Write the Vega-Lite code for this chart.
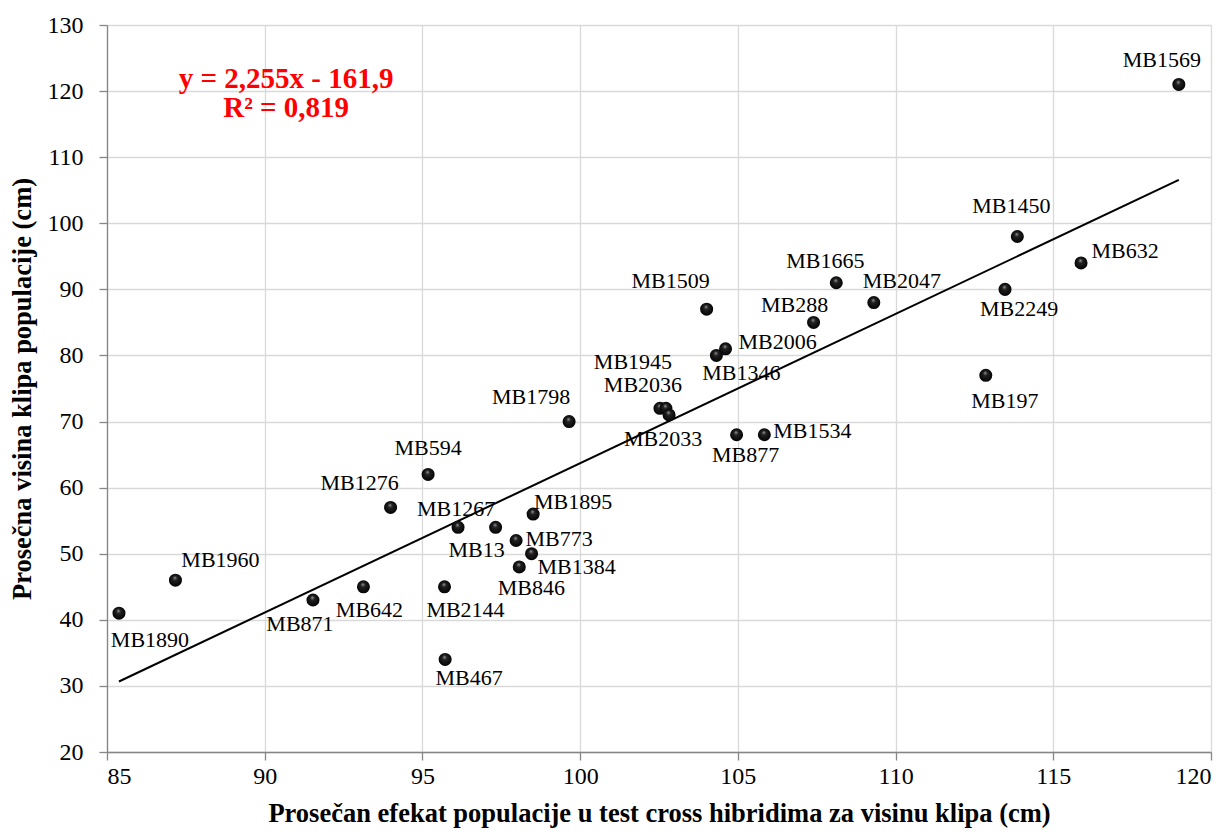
{
  "$schema": "https://vega.github.io/schema/vega-lite/v6.json",
  "width": 1104,
  "height": 727,
  "autosize": "none",
  "padding": {"left": 107, "top": 25, "right": 20, "bottom": 82},
  "background": "white",
  "config": {
    "view": {"stroke": null},
    "font": "Liberation Serif",
    "axis": {
      "labelFont": "Liberation Serif",
      "titleFont": "Liberation Serif",
      "labelColor": "#000000",
      "titleColor": "#000000",
      "labelFontSize": 24,
      "titleFontSize": 26.5,
      "titleFontWeight": "bold",
      "gridColor": "#d9d9d9",
      "gridWidth": 1.3,
      "domainColor": "#868686",
      "domainWidth": 1.3,
      "tickColor": "#868686",
      "tickSize": 8,
      "tickWidth": 1.3
    }
  },
  "datasets": {
    "pts": [
      {"name": "MB1890", "x": 85.38, "y": 41},
      {"name": "MB1960", "x": 87.17, "y": 46},
      {"name": "MB871", "x": 91.53, "y": 43},
      {"name": "MB642", "x": 93.13, "y": 45},
      {"name": "MB1276", "x": 93.99, "y": 57},
      {"name": "MB594", "x": 95.18, "y": 62},
      {"name": "MB2144", "x": 95.7, "y": 45},
      {"name": "MB467", "x": 95.72, "y": 34},
      {"name": "MB1267", "x": 96.13, "y": 54},
      {"name": "MB13", "x": 97.32, "y": 54},
      {"name": "MB773", "x": 97.97, "y": 52},
      {"name": "MB846", "x": 98.07, "y": 48},
      {"name": "MB1384", "x": 98.46, "y": 50},
      {"name": "MB1895", "x": 98.51, "y": 56},
      {"name": "MB1798", "x": 99.65, "y": 70},
      {"name": "MB1945", "x": 102.53, "y": 72},
      {"name": "MB2036", "x": 102.72, "y": 72},
      {"name": "MB2033", "x": 102.82, "y": 71},
      {"name": "MB1509", "x": 104.01, "y": 87},
      {"name": "MB1346", "x": 104.32, "y": 80},
      {"name": "MB2006", "x": 104.61, "y": 81},
      {"name": "MB877", "x": 104.96, "y": 68},
      {"name": "MB1534", "x": 105.84, "y": 68},
      {"name": "MB288", "x": 107.4, "y": 85},
      {"name": "MB1665", "x": 108.12, "y": 91},
      {"name": "MB2047", "x": 109.31, "y": 88},
      {"name": "MB197", "x": 112.86, "y": 77},
      {"name": "MB2249", "x": 113.47, "y": 90},
      {"name": "MB1450", "x": 113.86, "y": 98},
      {"name": "MB632", "x": 115.88, "y": 94},
      {"name": "MB1569", "x": 118.98, "y": 121}
    ],
    "eq": [
      {"label": "y = 2,255x - 161,9", "line": 1},
      {"label": "R² = 0,819", "line": 2}
    ]
  },
  "layer": [
    {
      "data": {"name": "pts"},
      "encoding": {
        "x": {
          "field": "x", "type": "quantitative",
          "scale": {"domain": [85, 120], "nice": false, "zero": false},
          "axis": {"values": [85, 90, 95, 100, 105, 110, 115, 120], "labelPadding": 4, "titlePadding": 12,
            "title": "Prosečan efekat populacije u test cross hibridima za visinu klipa (cm)"}
        },
        "y": {
          "field": "y", "type": "quantitative",
          "scale": {"domain": [20, 130], "nice": false, "zero": false},
          "axis": {"values": [20, 30, 40, 50, 60, 70, 80, 90, 100, 110, 120, 130], "labelPadding": 16, "titlePadding": 11,
            "title": "Prosečna visina klipa populacije (cm)"}
        }
      },
      "layer": [
        {
          "transform": [{"regression": "y", "on": "x"}],
          "mark": {"type": "line", "color": "#000000", "strokeWidth": 2}
        },
        {
          "mark": {
            "type": "circle", "size": 170, "opacity": 1,
            "fill": {"gradient": "radial", "x1": 0.45, "y1": 0.3, "r1": 0, "x2": 0.5, "y2": 0.5, "r2": 0.55,
              "stops": [{"offset": 0, "color": "#a0a0a0"}, {"offset": 0.3, "color": "#222222"}, {"offset": 1, "color": "#000000"}]}
          }
        },
        {
          "encoding": {"text": {"field": "name", "type": "nominal"}},
          "layer": [
            {"transform": [{"filter": "datum.name === 'MB1569'"}], "mark": {"type": "text", "fontSize": 22, "baseline": "middle", "dx": -17, "dy": -24}},
            {"transform": [{"filter": "datum.name === 'MB1450'"}], "mark": {"type": "text", "fontSize": 22, "baseline": "middle", "dx": -6, "dy": -30}},
            {"transform": [{"filter": "datum.name === 'MB632'"}], "mark": {"type": "text", "fontSize": 22, "baseline": "middle", "dx": 44, "dy": -12}},
            {"transform": [{"filter": "datum.name === 'MB2249'"}], "mark": {"type": "text", "fontSize": 22, "baseline": "middle", "dx": 14, "dy": 20}},
            {"transform": [{"filter": "datum.name === 'MB197'"}], "mark": {"type": "text", "fontSize": 22, "baseline": "middle", "dx": 19, "dy": 26}},
            {"transform": [{"filter": "datum.name === 'MB2047'"}], "mark": {"type": "text", "fontSize": 22, "baseline": "middle", "dx": 28, "dy": -22}},
            {"transform": [{"filter": "datum.name === 'MB1665'"}], "mark": {"type": "text", "fontSize": 22, "baseline": "middle", "dx": -11, "dy": -22}},
            {"transform": [{"filter": "datum.name === 'MB288'"}], "mark": {"type": "text", "fontSize": 22, "baseline": "middle", "dx": -19, "dy": -17}},
            {"transform": [{"filter": "datum.name === 'MB1509'"}], "mark": {"type": "text", "fontSize": 22, "baseline": "middle", "dx": -36, "dy": -28}},
            {"transform": [{"filter": "datum.name === 'MB2006'"}], "mark": {"type": "text", "fontSize": 22, "baseline": "middle", "dx": 52, "dy": -7}},
            {"transform": [{"filter": "datum.name === 'MB1346'"}], "mark": {"type": "text", "fontSize": 22, "baseline": "middle", "dx": 25, "dy": 18}},
            {"transform": [{"filter": "datum.name === 'MB1945'"}], "mark": {"type": "text", "fontSize": 22, "baseline": "middle", "dx": -27, "dy": -46}},
            {"transform": [{"filter": "datum.name === 'MB2036'"}], "mark": {"type": "text", "fontSize": 22, "baseline": "middle", "dx": -23, "dy": -23}},
            {"transform": [{"filter": "datum.name === 'MB2033'"}], "mark": {"type": "text", "fontSize": 22, "baseline": "middle", "dx": -6, "dy": 24}},
            {"transform": [{"filter": "datum.name === 'MB1798'"}], "mark": {"type": "text", "fontSize": 22, "baseline": "middle", "dx": -38, "dy": -25}},
            {"transform": [{"filter": "datum.name === 'MB877'"}], "mark": {"type": "text", "fontSize": 22, "baseline": "middle", "dx": 9, "dy": 20}},
            {"transform": [{"filter": "datum.name === 'MB1534'"}], "mark": {"type": "text", "fontSize": 22, "baseline": "middle", "dx": 48, "dy": -4}},
            {"transform": [{"filter": "datum.name === 'MB594'"}], "mark": {"type": "text", "fontSize": 22, "baseline": "middle", "dx": 0, "dy": -26}},
            {"transform": [{"filter": "datum.name === 'MB1276'"}], "mark": {"type": "text", "fontSize": 22, "baseline": "middle", "dx": -31, "dy": -24}},
            {"transform": [{"filter": "datum.name === 'MB1267'"}], "mark": {"type": "text", "fontSize": 22, "baseline": "middle", "dx": -2, "dy": -18}},
            {"transform": [{"filter": "datum.name === 'MB1895'"}], "mark": {"type": "text", "fontSize": 22, "baseline": "middle", "dx": 40, "dy": -12}},
            {"transform": [{"filter": "datum.name === 'MB13'"}], "mark": {"type": "text", "fontSize": 22, "baseline": "middle", "dx": -19, "dy": 23}},
            {"transform": [{"filter": "datum.name === 'MB773'"}], "mark": {"type": "text", "fontSize": 22, "baseline": "middle", "dx": 43, "dy": -2}},
            {"transform": [{"filter": "datum.name === 'MB1384'"}], "mark": {"type": "text", "fontSize": 22, "baseline": "middle", "dx": 45, "dy": 13}},
            {"transform": [{"filter": "datum.name === 'MB846'"}], "mark": {"type": "text", "fontSize": 22, "baseline": "middle", "dx": 12, "dy": 21}},
            {"transform": [{"filter": "datum.name === 'MB2144'"}], "mark": {"type": "text", "fontSize": 22, "baseline": "middle", "dx": 21, "dy": 23}},
            {"transform": [{"filter": "datum.name === 'MB467'"}], "mark": {"type": "text", "fontSize": 22, "baseline": "middle", "dx": 24, "dy": 19}},
            {"transform": [{"filter": "datum.name === 'MB642'"}], "mark": {"type": "text", "fontSize": 22, "baseline": "middle", "dx": 6, "dy": 23}},
            {"transform": [{"filter": "datum.name === 'MB871'"}], "mark": {"type": "text", "fontSize": 22, "baseline": "middle", "dx": -13, "dy": 24}},
            {"transform": [{"filter": "datum.name === 'MB1890'"}], "mark": {"type": "text", "fontSize": 22, "baseline": "middle", "dx": 31, "dy": 27}},
            {"transform": [{"filter": "datum.name === 'MB1960'"}], "mark": {"type": "text", "fontSize": 22, "baseline": "middle", "dx": 45, "dy": -20}}
          ]
        }
      ]
    },
    {
      "data": {"name": "eq"},
      "layer": [
        {
          "transform": [{"filter": "datum.line === 1"}],
          "mark": {"type": "text", "fontSize": 29, "fontWeight": "bold", "color": "#ff0000", "baseline": "middle", "align": "center"},
          "encoding": {
            "x": {"datum": 90.68},
            "y": {"datum": 121.9},
            "text": {"field": "label"}
          }
        },
        {
          "transform": [{"filter": "datum.line === 2"}],
          "mark": {"type": "text", "fontSize": 29, "fontWeight": "bold", "color": "#ff0000", "baseline": "middle", "align": "center"},
          "encoding": {
            "x": {"datum": 90.68},
            "y": {"datum": 117.4},
            "text": {"field": "label"}
          }
        }
      ]
    }
  ]
}
